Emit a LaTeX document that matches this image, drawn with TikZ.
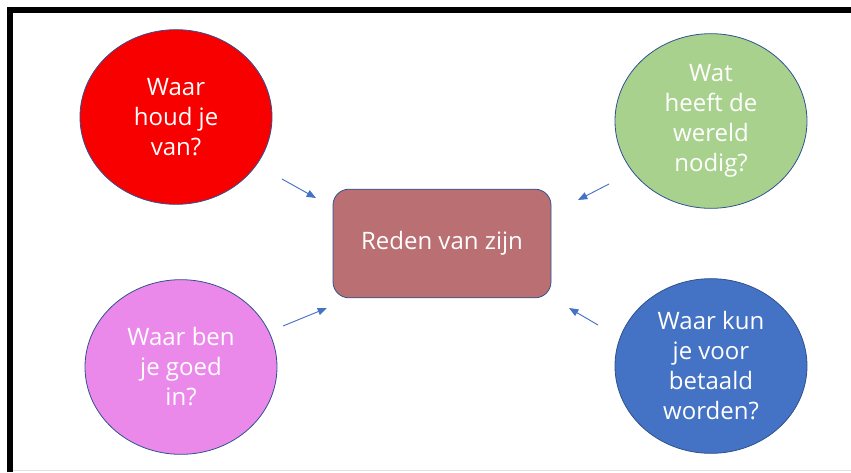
\documentclass[tikz,border=0pt]{standalone}
\usepackage{fontspec}
\setmainfont{Open Sans}
\usetikzlibrary{arrows.meta,shapes.geometric}
\definecolor{cred}{HTML}{F80000}
\definecolor{cgreen}{HTML}{A9D18E}
\definecolor{cpink}{HTML}{EB89EB}
\definecolor{cblue}{HTML}{4472C4}
\definecolor{crect}{HTML}{BA7072}
\definecolor{cedge}{HTML}{2F528F}
\definecolor{carrow}{HTML}{4472C4}
\tikzset{
  bubble/.style={ellipse, draw=cedge, line width=0.6pt, minimum width=144pt, minimum height=131pt,
    inner sep=0pt, text=white, align=center, font=\fontsize{18}{22.5}\selectfont},
  centerbox/.style={rectangle, rounded corners=12pt, draw=cedge, line width=0.6pt, fill=crect,
    minimum width=163.5pt, minimum height=81.5pt, text=white, font=\fontsize{18}{22.5}\selectfont},
  link/.style={draw=carrow, line width=0.7pt, -{Triangle[length=7pt,width=5.5pt]}}
}
\begin{document}
\begin{tikzpicture}[x=0.75pt,y=-0.75pt]
\useasboundingbox (0,0) rectangle (851,472);
\draw[black!12, line width=1pt] (10,470.5) -- (851,470.5);
\draw[black, line width=4.5pt] (10,472) -- (10,10) -- (851,10);
\node[bubble, fill=cred] (red) at (176,117) {Waar\\houd je\\van?};
\node[bubble, fill=cgreen] (green) at (711,121) {Wat\\heeft de\\wereld\\nodig?};
\node[bubble, fill=cpink] (pink) at (181,367) {Waar ben\\je goed\\in?};
\node[bubble, fill=cblue] (blue) at (711,366) {Waar kun\\je voor\\betaald\\worden?};
\node[centerbox] (mid) at (442,243.5) {Reden van zijn};
\coordinate (a1) at (282,179);
\coordinate (a2) at (609,184);
\coordinate (a3) at (283,326);
\coordinate (a4) at (598,325);
\coordinate (b1) at (316,198);
\coordinate (b2) at (578,200);
\coordinate (b3) at (327,308);
\coordinate (b4) at (569,308);
\draw[link] (a1) -- (b1);
\draw[link] (a2) -- (b2);
\draw[link] (a3) -- (b3);
\draw[link] (a4) -- (b4);
\end{tikzpicture}
\end{document}
